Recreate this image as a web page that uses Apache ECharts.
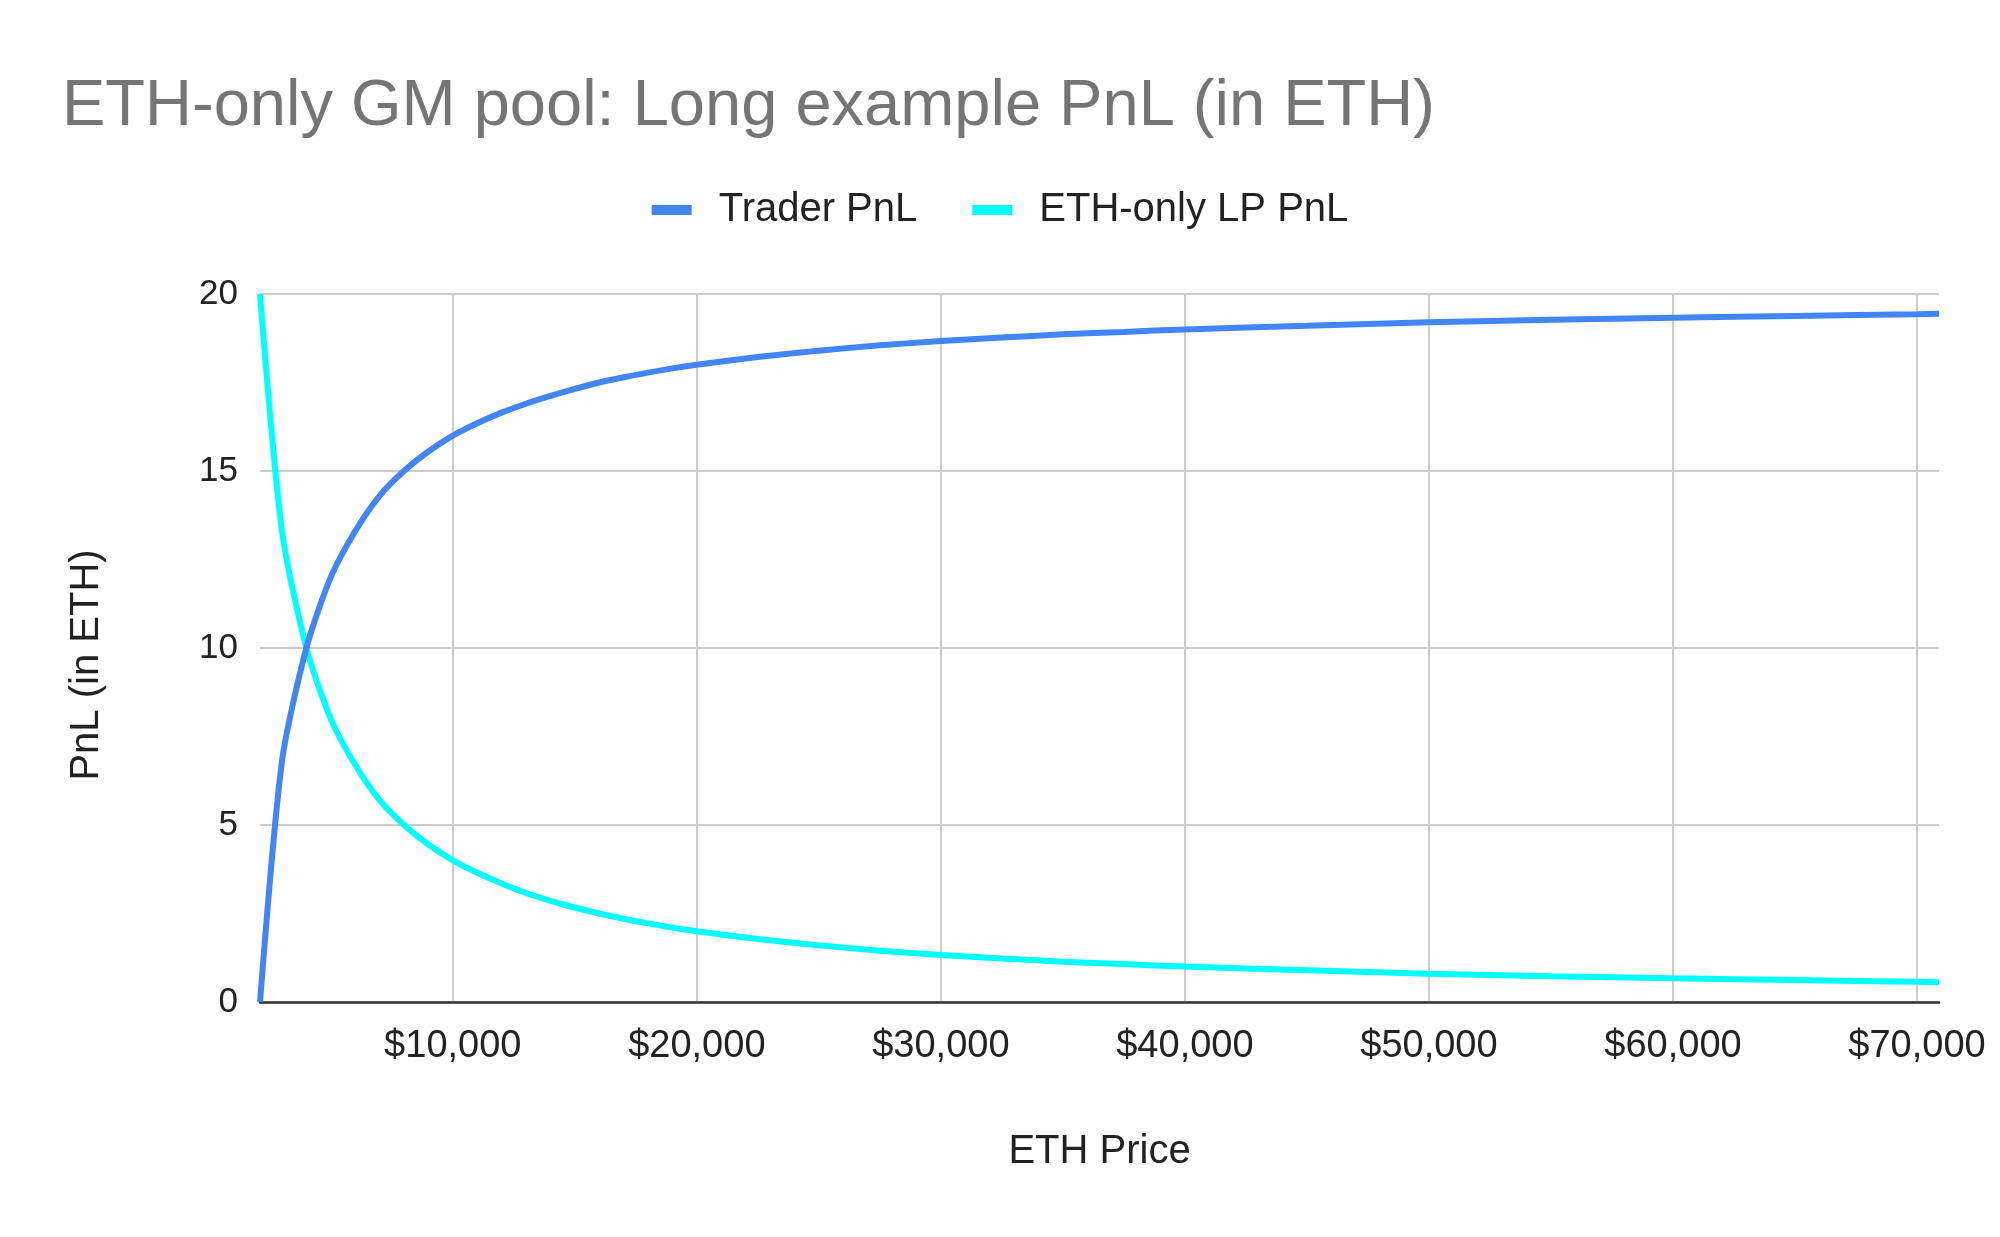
<!DOCTYPE html>
<html>
<head>
<meta charset="utf-8">
<script src="https://cdn.jsdelivr.net/npm/echarts@6/dist/echarts.min.js"></script>
<style>html,body{margin:0;padding:0;background:#fff}#c{width:2000px;height:1237px}</style>
</head>
<body>
<div id="c"></div>
<script>
const titleText = 'ETH-only GM pool: Long example PnL (in ETH)';
const seriesNames = ['Trader PnL', 'ETH-only LP PnL'];
const ethPrice = [2100,3000,4000,5000,6000,7000,8000,9000,10000,11000,12000,13000,14000,15000,16000,17000,18000,19000,20000,22500,25000,27500,30000,32500,35000,37500,40000,45000,50000,55000,60000,65000,70000,70900];
const traderPnl = [0,6.8,10,12,13.3,14.3,15,15.55,16,16.35,16.65,16.9,17.12,17.32,17.5,17.65,17.78,17.9,18,18.22,18.4,18.55,18.67,18.77,18.86,18.93,19,19.1,19.2,19.27,19.33,19.38,19.43,19.44];
const lpPnl = [20,13.3,10,8,6.7,5.7,5,4.45,4,3.65,3.35,3.08,2.86,2.67,2.5,2.35,2.22,2.1,2,1.78,1.6,1.45,1.33,1.23,1.14,1.07,1,0.9,0.8,0.73,0.67,0.62,0.57,0.56];
const xRange = [2100, 70900];
const yTicks = [0, 5, 10, 15, 20];

const font = 'Liberation Sans, Arial, sans-serif';
const chart = echarts.init(document.getElementById('c'));
chart.setOption({
  animation: false,
  backgroundColor: '#ffffff',
  title: {
    text: titleText, left: 62, top: 75, padding: 0,
    textStyle: { fontFamily: font, fontSize: 65, fontWeight: 'normal', color: '#757575' }
  },
  legend: {
    top: 190, left: 'center', padding: 0,
    itemWidth: 40, itemHeight: 10, itemGap: 55,
    icon: 'rect',
    textStyle: { fontFamily: font, fontSize: 40, color: '#222', padding: [0, 0, 0, 22] },
    data: seriesNames
  },
  grid: { left: 260, right: 61, top: 294, bottom: 235 },
  xAxis: {
    type: 'value', min: xRange[0], max: xRange[1],
    name: 'ETH Price', nameLocation: 'middle', nameGap: 130,
    nameTextStyle: { fontFamily: font, fontSize: 40, color: '#222' },
    axisLine: { show: true, onZero: false, lineStyle: { color: '#333', width: 2.5 } },
    axisTick: { show: false },
    axisLabel: {
      showMinLabel: false, showMaxLabel: false, margin: 26,
      fontFamily: font, fontSize: 38, color: '#222',
      formatter: v => '$' + v.toLocaleString('en-US')
    },
    splitLine: { show: true, showMinLine: false, showMaxLine: false, lineStyle: { color: '#cccccc', width: 2 } }
  },
  yAxis: {
    type: 'value', min: yTicks[0], max: yTicks[yTicks.length - 1], interval: 5,
    name: 'PnL (in ETH)', nameLocation: 'middle', nameGap: 153,
    nameTextStyle: { fontFamily: font, fontSize: 40, color: '#222', padding: [0, 34, 0, 0] },
    axisLine: { show: false }, axisTick: { show: false },
    axisLabel: { margin: 22, fontFamily: font, fontSize: 35, color: '#222' },
    splitLine: { show: true, lineStyle: { color: '#cccccc', width: 2 } }
  },
  series: [
    {
      name: seriesNames[0], type: 'line', showSymbol: false, symbol: 'none',
      smooth: 0.25,
      data: ethPrice.map((x, i) => [x, traderPnl[i]]),
      lineStyle: { color: '#4285f4', width: 6 }, itemStyle: { color: '#4285f4' }, z: 3
    },
    {
      name: seriesNames[1], type: 'line', showSymbol: false, symbol: 'none',
      smooth: 0.25,
      data: ethPrice.map((x, i) => [x, lpPnl[i]]),
      lineStyle: { color: '#00ffff', width: 6 }, itemStyle: { color: '#00ffff' }, z: 2
    }
  ]
});
</script>
</body>
</html>
